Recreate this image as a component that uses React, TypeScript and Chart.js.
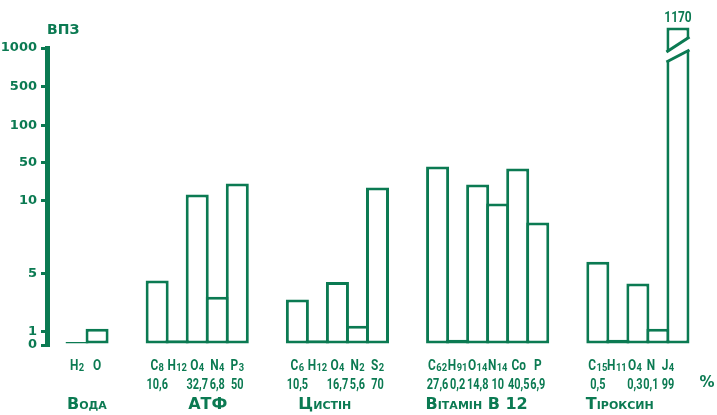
import React, { useEffect, useRef } from 'react';
import { Chart, registerables, LinearScale } from 'chart.js';

const INK = '#0b7a52';
const FONT = "'DejaVu Sans', sans-serif";
const LABEL_FONT = "Roboto, 'DejaVu Sans', sans-serif";

// ВПЗ axis: tick values and where each one sits on the axis (0 = bottom, 1 = top)
const yTickValues = [0, 1, 5, 10, 50, 100, 500, 1000];
const yTickFractions = [0, 0.0448, 0.2414, 0.4859, 0.6138, 0.7374, 0.8697, 1];
// values above the top tick continue past the broken bar at this rate (axis fraction per unit)
const yOverflowRate = 0.000406;

const groupNames = ['Вода', 'АТФ', 'Цистін', 'Вітамін В 12', 'Тіроксин'];

const waterElements = ['H₂', 'O'];
const waterShares = ['', ''];
const waterValues = [0, 1.2];

const atpElements = ['C₈', 'H₁₂', 'O₄', 'N₄', 'P₃'];
const atpShares = ['10,6', '', '32,7', '6,8', '50'];
const atpValues = [4.5, 0.35, 16.5, 3.4, 28];

const cystineElements = ['C₆', 'H₁₂', 'O₄', 'N₂', 'S₂'];
const cystineShares = ['10,5', '', '16,7', '5,6', '70'];
const cystineValues = [3.2, 0.35, 4.4, 1.4, 24];

const b12Elements = ['C₆₂', 'H₉₁', 'O₁₄', 'N₁₄', 'Co', 'P'];
const b12Shares = ['27,6', '0,2', '14,8', '10', '40,5', '6,9'];
const b12Values = [46, 0.4, 27, 9.8, 44, 8.5];

const thyroxineElements = ['C₁₅', 'H₁₁', 'O₄', 'N', 'J₄'];
const thyroxineShares = ['0,5', '', '0,3', '0,1', '99'];
const thyroxineValues = [5.8, 0.4, 4.3, 1.2, 1170];

const groups = [
  { elements: waterElements, shares: waterShares, values: waterValues },
  { elements: atpElements, shares: atpShares, values: atpValues },
  { elements: cystineElements, shares: cystineShares, values: cystineValues },
  { elements: b12Elements, shares: b12Shares, values: b12Values },
  { elements: thyroxineElements, shares: thyroxineShares, values: thyroxineValues },
];

// horizontal nudges of the labels under the bars, per group
const labelNudges = [
  [0, 0],
  [0, 0, 0, 0, 0],
  [0, 0, 0, 0, 0],
  [0, 0, 0, 0, 1, 0],
  [0, -1, -3, -7, -10],
];

// empty slots: one before the first group, two between groups, one after the last
const labels: (string | string[])[] = [''];
const values: (number | null)[] = [null];
const nudges: number[] = [0];
const groupStart: number[] = [];
groups.forEach((g, gi) => {
  if (gi > 0) {
    labels.push('', '');
    values.push(null, null);
    nudges.push(0, 0);
  }
  groupStart.push(labels.length);
  g.elements.forEach((el, i) => {
    labels.push([el, g.shares[i]]);
    values.push(g.values[i]);
    nudges.push(labelNudges[gi][i]);
  });
});
labels.push('');
values.push(null);
nudges.push(0);

// horizontal shift of each group name from its first bar's left edge
const groupNameShift = [0, 41, 11, -2, -2];

// piecewise axis: linear inside each tick interval
class SteppedScale extends LinearScale {
  static id = 'stepped';
  static defaults = {};

  buildTicks() {
    return yTickValues.map((v) => ({ value: v }));
  }

  toDecimal(v: number) {
    const last = yTickValues.length - 1;
    if (v <= yTickValues[0]) return yTickFractions[0];
    if (v >= yTickValues[last]) return yTickFractions[last] + (v - yTickValues[last]) * yOverflowRate;
    for (let i = 1; i <= last; i++) {
      if (v <= yTickValues[i]) {
        const t = (v - yTickValues[i - 1]) / (yTickValues[i] - yTickValues[i - 1]);
        return yTickFractions[i - 1] + t * (yTickFractions[i] - yTickFractions[i - 1]);
      }
    }
    return 1;
  }

  getPixelForValue(v: number) {
    return this.getPixelForDecimal(this.toDecimal(+v));
  }

  getValueForPixel(p: number) {
    const d = this.getDecimalForPixel(p);
    const last = yTickValues.length - 1;
    if (d >= yTickFractions[last]) return yTickValues[last] + (d - yTickFractions[last]) / yOverflowRate;
    for (let i = 1; i <= last; i++) {
      if (d <= yTickFractions[i]) {
        const t = (d - yTickFractions[i - 1]) / (yTickFractions[i] - yTickFractions[i - 1]);
        return yTickValues[i - 1] + t * (yTickValues[i] - yTickValues[i - 1]);
      }
    }
    return 0;
  }
}

Chart.register(...registerables, SteppedScale);

const SUBSCRIPTS = '₀₁₂₃₄₅₆₇₈₉';

// draws a formula such as "C₆₂" squeezed horizontally, with lowered small digits
function drawFormula(ctx: CanvasRenderingContext2D, text: string, cx: number, cy: number, size: number, squeeze: number) {
  const runs: { s: string; sub: boolean }[] = [];
  for (const ch of text) {
    const k = SUBSCRIPTS.indexOf(ch);
    const sub = k >= 0;
    const c = sub ? String(k) : ch;
    const lastRun = runs[runs.length - 1];
    if (lastRun && lastRun.sub === sub) lastRun.s += c;
    else runs.push({ s: c, sub });
  }
  const mainFont = `bold ${size}px ${LABEL_FONT}`;
  const subFont = `bold ${Math.round(size * 0.78)}px ${LABEL_FONT}`;
  let w = 0;
  const widths = runs.map((r) => {
    ctx.font = r.sub ? subFont : mainFont;
    const m = ctx.measureText(r.s).width + (r.sub ? 0.5 : 0);
    w += m;
    return m;
  });
  ctx.save();
  ctx.translate(cx, cy);
  ctx.scale(squeeze, 1);
  ctx.textAlign = 'left';
  ctx.textBaseline = 'alphabetic';
  let xPos = -w / 2;
  runs.forEach((r, i) => {
    ctx.font = r.sub ? subFont : mainFont;
    ctx.fillText(r.s, xPos + (r.sub ? 0.5 : 0), r.sub ? size * 0.45 : size * 0.36);
    xPos += widths[i];
  });
  ctx.restore();
}

const decorations = {
  id: 'decorations',
  afterDatasetsDraw(chart: any) {
    const { ctx, scales } = chart;
    const y = scales.y;
    const meta = chart.getDatasetMeta(0);
    const data = chart.data.datasets[0].data;
    ctx.save();
    meta.data.forEach((bar: any, i: number) => {
      const v = data[i];
      if (v == null || v <= y.max) return;
      const { x: cx, width, y: top } = bar.getProps(['x', 'width', 'y'], true);
      const left = cx - width / 2;
      const right = cx + width / 2;
      const p = y.getPixelForValue(y.max);
      const upL = p + 4, upR = p - 11, loL = p + 14, loR = p + 2;
      const slopeUp = (upR - upL) / (right - left);
      const slopeLo = (loR - loL) / (right - left);
      // cut through the bar
      ctx.fillStyle = '#ffffff';
      ctx.beginPath();
      ctx.moveTo(left - 3, upL - 3 * slopeUp);
      ctx.lineTo(right + 3, upR + 3 * slopeUp);
      ctx.lineTo(right + 3, loR + 3 * slopeLo);
      ctx.lineTo(left - 3, loL - 3 * slopeLo);
      ctx.closePath();
      ctx.fill();
      ctx.strokeStyle = INK;
      ctx.lineWidth = 3;
      ctx.beginPath();
      ctx.moveTo(left, upL);
      ctx.lineTo(right, upR);
      ctx.moveTo(left, loL);
      ctx.lineTo(right, loR);
      ctx.stroke();
      // value above the broken bar
      ctx.fillStyle = INK;
      drawFormula(ctx, String(v), cx, top - 11, 14, 0.85);
    });
    ctx.restore();
  },
  afterDraw(chart: any) {
    const { ctx, scales, chartArea } = chart;
    const x = scales.x;
    const slot = (x.right - x.left) / labels.length;
    ctx.save();
    ctx.fillStyle = INK;
    // element symbols and mass shares under each bar
    labels.forEach((lab, i) => {
      if (!Array.isArray(lab)) return;
      const cx = x.getPixelForValue(i) + nudges[i];
      drawFormula(ctx, lab[0], cx, 365, 14, 0.85);
      if (lab[1]) drawFormula(ctx, lab[1], cx, 384, 14, 0.78);
    });
    // axis caption
    ctx.font = `bold 14px ${FONT}`;
    ctx.textAlign = 'left';
    ctx.textBaseline = 'middle';
    ctx.fillText('ВПЗ', chartArea.left, 30);
    // group names
    ctx.font = `small-caps bold 16px ${FONT}`;
    groupNames.forEach((name, gi) => {
      const edge = x.getPixelForValue(groupStart[gi]) - slot / 2;
      ctx.fillText(name, edge + groupNameShift[gi], 405);
    });
    // unit of the share row
    ctx.font = `bold 15px ${FONT}`;
    ctx.textAlign = 'center';
    ctx.fillText('%', 707, 383);
    ctx.restore();
  },
};

export default function App() {
  const ref = useRef<HTMLCanvasElement>(null);

  useEffect(() => {
    if (!ref.current) return;
    const chart = new Chart(ref.current, {
      type: 'bar',
      data: {
        labels,
        datasets: [
          {
            data: values,
            backgroundColor: '#ffffff',
            borderColor: INK,
            borderWidth: 3,
            borderSkipped: false,
            barPercentage: 1.15,
            categoryPercentage: 1,
            minBarLength: 3,
            clip: false,
          },
        ],
      },
      options: {
        responsive: false,
        animation: false,
        events: [],
        layout: { padding: { top: 48, right: 9, left: 0, bottom: 0 } },
        plugins: { legend: { display: false }, tooltip: { enabled: false }, title: { display: false } },
        scales: {
          x: {
            type: 'category',
            grid: { display: false },
            border: { display: false },
            ticks: { display: false },
            afterFit: (s: any) => {
              s.height = 70;
            },
          },
          y: {
            type: 'stepped',
            min: 0,
            max: 1000,
            grid: {
              display: true,
              drawOnChartArea: false,
              drawTicks: true,
              tickLength: 6,
              lineWidth: 3,
              color: INK,
            },
            border: { display: true, width: 5, color: INK },
            ticks: {
              padding: 4,
              color: INK,
              font: { family: FONT, size: 13, weight: 'bold' },
              callback: (v: any) => String(v),
            },
            afterFit: (s: any) => {
              s.width = 47;
            },
          },
        },
      },
      plugins: [decorations],
    } as any);
    return () => chart.destroy();
  }, []);

  return (
    <div style={{ position: 'fixed', left: 0, top: 0, width: 717, height: 415, background: '#ffffff' }}>
      <canvas ref={ref} width={717} height={415} style={{ display: 'block' }} />
    </div>
  );
}
